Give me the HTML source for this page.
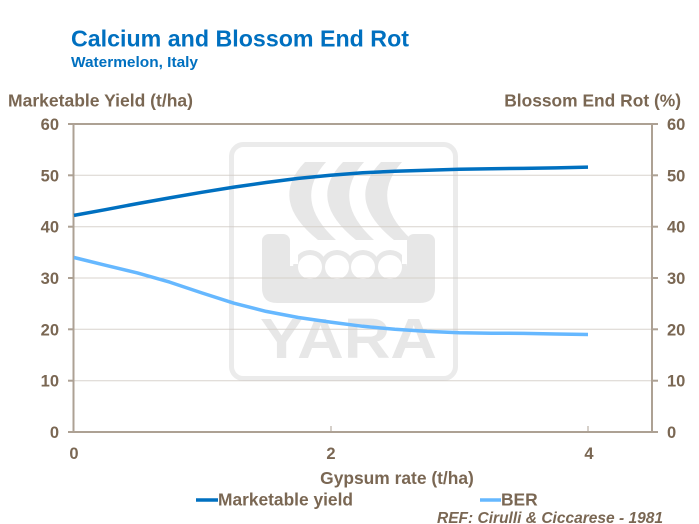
<!DOCTYPE html>
<html><head><meta charset="utf-8"><style>
html,body{margin:0;padding:0;background:#fff;}
svg{display:block;}
text{font-family:"Liberation Sans",Arial,sans-serif;font-weight:bold;}
</style></head><body>
<svg width="699" height="524" viewBox="0 0 699 524" xmlns="http://www.w3.org/2000/svg">
<rect width="699" height="524" fill="#fff"/>
<!-- titles -->
<text x="71" y="46.5" font-size="23" fill="#0070c0" textLength="338" lengthAdjust="spacingAndGlyphs">Calcium and Blossom End Rot</text>
<text x="71" y="67" font-size="15" fill="#0070c0" textLength="127" lengthAdjust="spacingAndGlyphs">Watermelon,  Italy</text>
<text x="8" y="106.5" font-size="17.4" fill="#7a6753" textLength="185" lengthAdjust="spacingAndGlyphs">Marketable Yield (t/ha)</text>
<text x="681" y="106.5" font-size="17.4" fill="#7a6753" text-anchor="end">Blossom End Rot (%)</text>

<!-- watermark -->
<g fill="#e7e7e7">
<rect x="231.5" y="144.5" width="224" height="234" rx="12" fill="none" stroke="#ebebeb" stroke-width="5"/>
<path d="M305,162 Q268,200 318,240 L336,240 Q292,200 326,162 Z"/>
<path d="M343,162 Q306,200 356,240 L374,240 Q330,200 364,162 Z"/>
<path d="M381,162 Q344,200 394,240 L412,240 Q368,200 402,162 Z"/>
<rect x="262" y="234" width="28" height="42" rx="7"/>
<rect x="407" y="234" width="28" height="42" rx="7"/>
<circle cx="310" cy="267" r="17"/>
<circle cx="337" cy="267" r="17"/>
<circle cx="363" cy="267" r="17"/>
<circle cx="390" cy="267" r="17"/>
<path d="M262,266 L435,266 L435,288 Q435,303 420,303 L277,303 Q262,303 262,288 Z"/>
<text x="260" y="358" font-size="57" fill="#e7e7e7" textLength="177" lengthAdjust="spacingAndGlyphs">YARA</text>
</g>
<g fill="#fff">
<circle cx="310" cy="267" r="12"/>
<circle cx="337" cy="267" r="12"/>
<circle cx="363" cy="267" r="12"/>
<circle cx="390" cy="267" r="12"/>
<rect x="290" y="250" width="8" height="14"/>
<rect x="402" y="250" width="5" height="14"/>
</g>

<!-- gridlines -->
<g stroke="#d2ccc6" stroke-width="1" opacity="0.85">
<line x1="74" y1="175.3" x2="652" y2="175.3"/>
<line x1="74" y1="226.7" x2="652" y2="226.7"/>
<line x1="74" y1="278" x2="652" y2="278"/>
<line x1="74" y1="329.3" x2="652" y2="329.3"/>
<line x1="74" y1="380.7" x2="652" y2="380.7"/>
</g>

<!-- axes -->
<g stroke="#ada194" stroke-width="2" fill="none">
<line x1="68" y1="124" x2="658" y2="124"/>
<line x1="73.5" y1="124" x2="73.5" y2="433"/>
<line x1="652" y1="124" x2="652" y2="433"/>
<line x1="68" y1="432" x2="658" y2="432"/>
<line x1="68" y1="175.3" x2="74" y2="175.3"/>
<line x1="68" y1="226.7" x2="74" y2="226.7"/>
<line x1="68" y1="278" x2="74" y2="278"/>
<line x1="68" y1="329.3" x2="74" y2="329.3"/>
<line x1="68" y1="380.7" x2="74" y2="380.7"/>
<line x1="652" y1="175.3" x2="658" y2="175.3"/>
<line x1="652" y1="226.7" x2="658" y2="226.7"/>
<line x1="652" y1="278" x2="658" y2="278"/>
<line x1="652" y1="329.3" x2="658" y2="329.3"/>
<line x1="652" y1="380.7" x2="658" y2="380.7"/>
<line x1="331" y1="426" x2="331" y2="432" stroke-width="1"/>
<line x1="588" y1="426" x2="588" y2="432" stroke-width="1"/>
</g>

<!-- tick labels -->
<g font-size="16.5" fill="#7a6753" text-anchor="end">
<text x="59" y="130">60</text>
<text x="59" y="181.3">50</text>
<text x="59" y="232.7">40</text>
<text x="59" y="284">30</text>
<text x="59" y="335.3">20</text>
<text x="59" y="386.7">10</text>
<text x="59" y="438">0</text>
</g>
<g font-size="16.5" fill="#7a6753" text-anchor="start">
<text x="667" y="130">60</text>
<text x="667" y="181.3">50</text>
<text x="667" y="232.7">40</text>
<text x="667" y="284">30</text>
<text x="667" y="335.3">20</text>
<text x="667" y="386.7">10</text>
<text x="667" y="438">0</text>
</g>
<g font-size="16.5" fill="#7a6753" text-anchor="middle">
<text x="74" y="459">0</text>
<text x="331" y="459">2</text>
<text x="589" y="459">4</text>
</g>
<text x="397" y="484" font-size="17.4" fill="#7a6753" text-anchor="middle">Gypsum rate (t/ha)</text>

<!-- series -->
<polyline fill="none" stroke="#0070c0" stroke-width="3.5" stroke-linejoin="round" stroke-linecap="butt"
points="74,215.4 105.2,209.7 137.4,203.6 169.6,197.9 201.75,192.3 233.9,187.1 266.1,182.5 298.3,178.4 330.5,175.3 362.7,172.8 394.9,171.2 427.1,170.2 459.25,169.2 491.4,168.7 523.6,168.4 555.8,167.9 588,167.1"/>
<polyline fill="none" stroke="#66b8ff" stroke-width="3.5" stroke-linejoin="round" stroke-linecap="butt"
points="74,257.5 105.2,265.2 137.4,272.9 169.6,282.1 201.75,292.9 233.9,303.2 266.1,311.4 298.3,317.5 330.5,322.1 362.7,326.3 394.9,329.3 427.1,331.4 459.25,332.7 491.4,333.2 523.6,333.4 555.8,334 588,334.5"/>

<!-- legend -->
<line x1="196" y1="500" x2="218" y2="500" stroke="#0070c0" stroke-width="3.5"/>
<text x="218" y="505.5" font-size="17.4" fill="#7a6753" textLength="135" lengthAdjust="spacingAndGlyphs">Marketable yield</text>
<line x1="480" y1="500" x2="501" y2="500" stroke="#66b8ff" stroke-width="3.5"/>
<text x="501" y="505.5" font-size="17.4" fill="#7a6753">BER</text>
<text x="437" y="523" font-size="15.3" font-style="italic" fill="#7a6753" textLength="226" lengthAdjust="spacingAndGlyphs">REF: Cirulli &amp; Ciccarese - 1981</text>
</svg>
</body></html>
